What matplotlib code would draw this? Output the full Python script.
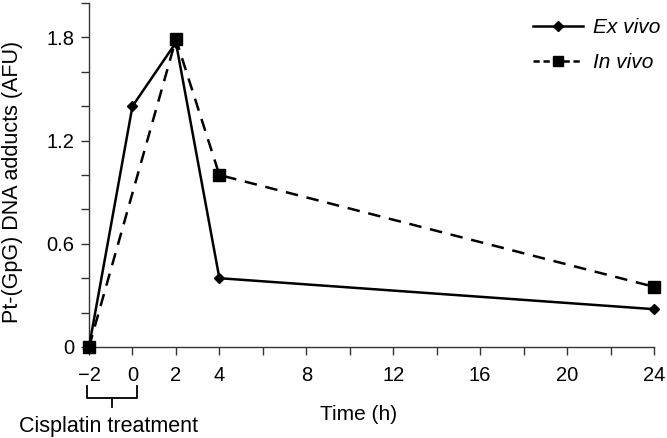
import matplotlib
matplotlib.use("Agg")
import matplotlib.pyplot as plt

plt.rcParams['font.family'] = ['Liberation Sans', 'DejaVu Sans']

ex_x = [-2, 0, 2, 4, 24]
ex_y = [0.0, 1.40, 1.77, 0.40, 0.22]
in_x = [-2, 2, 4, 24]
in_y = [0.0, 1.79, 1.00, 0.35]
xtick_labels = {-2: '\u22122', 0: '0', 2: '2', 4: '4', 8: '8', 12: '12', 16: '16', 20: '20', 24: '24'}
ytick_labels = {0: '0', 3: '0.6', 6: '1.2', 9: '1.8'}

fig = plt.figure(figsize=(6.67, 4.38), dpi=100)
ax = fig.add_axes([89/667, 91/438, (654-89)/667, (347-3)/438])

ax.plot(ex_x, ex_y, color='black', lw=1.8, marker='D', ms=5.5, clip_on=False,
        label='Ex vivo', zorder=3)
ax.plot(in_x, in_y, color='black', lw=1.8, ls=(0, (5, 3.5)), marker='s', ms=8,
        clip_on=False, label='In vivo', zorder=3)

ax.set_xlim(-2, 24)
ax.set_ylim(0, 2.0)
xt = list(range(-2, 25, 2))
ax.set_xticks(xt)
ax.set_xticklabels([xtick_labels.get(v, '') for v in xt])
yt = [i * 0.2 for i in range(11)]
ax.set_yticks(yt)
ax.set_yticklabels([ytick_labels.get(i, '') for i in range(11)])
ax.spines['top'].set_visible(False)
ax.spines['right'].set_visible(False)
for s in ['left', 'bottom']:
    ax.spines[s].set_linewidth(1.0)
    ax.spines[s].set_color('#333333')
ax.tick_params(direction='out', length=5.5, width=1.0, color='#333333', labelsize=14.5)
ax.tick_params(axis='x', pad=8)
ax.tick_params(axis='y', pad=5)

fig.text(13/667, 1 - 182/438, 'Pt-(GpG) DNA adducts (AFU)', rotation=90, ha='center', va='center',
         fontsize=15.5)
ax.text(10.4, -0.195, 'Time (h)', transform=ax.get_xaxis_transform(), ha='center', va='center',
        fontsize=15)

# bracket for cisplatin treatment
tr = ax.get_xaxis_transform()
ytop, ybar, ytip = -0.113, -0.148, -0.175
ax.plot([-2.1, -2.1, 0.2, 0.2], [ytop, ybar, ybar, ytop], color='black', lw=1.3,
        transform=tr, clip_on=False)
ax.plot([-0.95, -0.95], [ybar, ytip], color='black', lw=1.3, transform=tr, clip_on=False)
ax.text(-1.1, -0.23, 'Cisplatin treatment', transform=tr, ha='center', va='center', fontsize=15.5)

leg = ax.legend(loc='upper right', bbox_to_anchor=(1.045, 1.01), frameon=False, fontsize=15,
                handlelength=2.4, handletextpad=0.5, labelspacing=0.75)
for t in leg.get_texts():
    t.set_fontstyle('italic')
leg.legend_handles[1].set_markersize(6.5)
leg.legend_handles[1].set_linestyle((0, (2.5, 1.5)))
leg.legend_handles[0].set_markersize(5)

fig.savefig('out.png', dpi=100)
